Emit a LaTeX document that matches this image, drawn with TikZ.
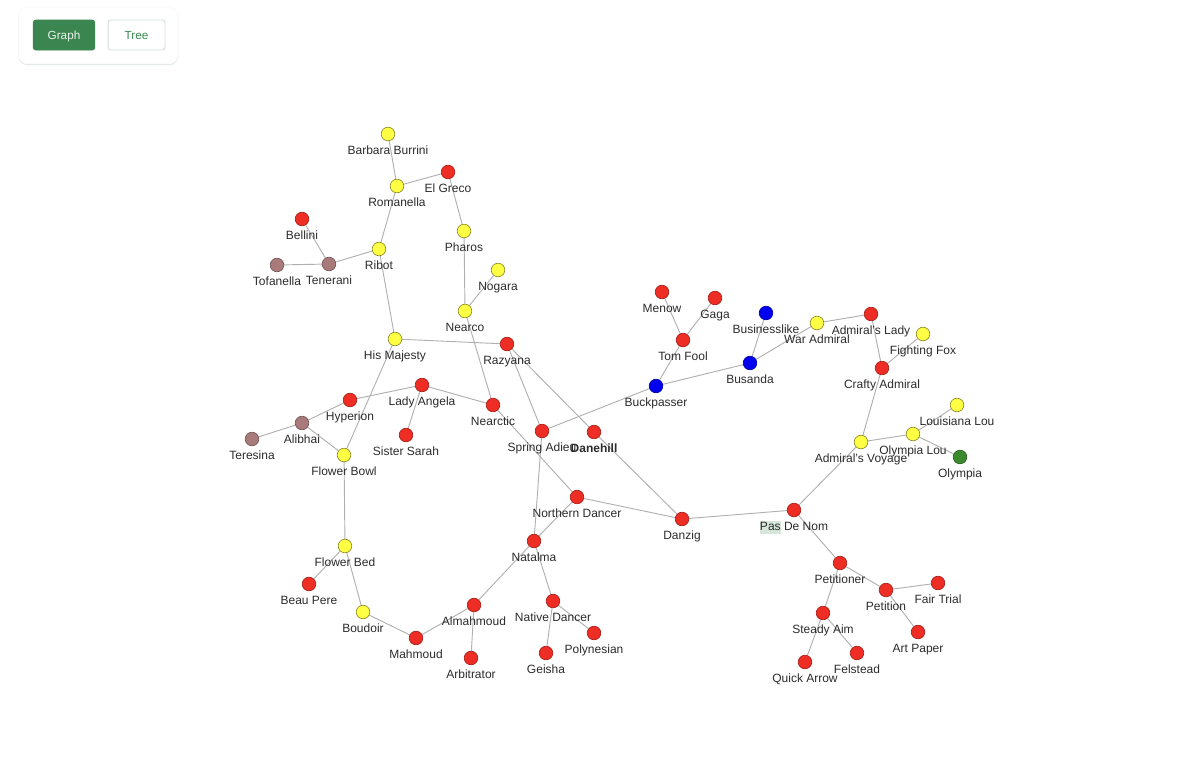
\documentclass[tikz,border=0pt]{standalone}
\usepackage{fontspec}
\setmainfont{Liberation Sans}
\usepackage{xcolor}
\usepackage{tikz}
\usetikzlibrary{backgrounds}
\definecolor{horsered}{HTML}{EE2D24}
\definecolor{horseyellow}{HTML}{FFFF44}
\definecolor{horsebrown}{HTML}{A87A7A}
\definecolor{horseblue}{HTML}{0000EE}
\definecolor{horsegreen}{HTML}{3C8A2E}
\definecolor{btngreen}{HTML}{3A8550}
\definecolor{btnedge}{HTML}{D3DDD9}
\definecolor{panedge}{HTML}{F9FBFA}
\definecolor{panshade}{HTML}{E3E8E6}
\definecolor{edgegray}{HTML}{B0B0B0}
\definecolor{marked}{HTML}{D6E6DA}
\definecolor{labelgray}{HTML}{2B2B2B}
\newcommand{\markedtext}[1]{{\setlength{\fboxsep}{0pt}\colorbox{marked}{\rule[-2.4pt]{0pt}{9.8pt}#1}}}
\tikzset {
  % one unit is one pixel of the screenshot
  x=0.75pt, y=-0.75pt,
  % circled vertex style
  main/.style = {draw, circle, inner sep=0pt, minimum size=10.2pt, line width=0.5pt},
  % labels under the vertices
  lab/.style = {font=\fontsize{9}{11}\selectfont, text=labelgray, inner sep=0pt, text height=6.8pt, text depth=2pt, yshift=-3pt},
  % vertex colours
  redv/.style = {main, fill=horsered, draw=horsered!70!black},
  yel/.style = {main, fill=horseyellow, draw=horseyellow!55!black},
  brown/.style = {main, fill=horsebrown, draw=horsebrown!70!black},
  blue/.style = {main, fill=horseblue, draw=horseblue!70!black},
  green/.style = {main, fill=horsegreen, draw=horsegreen!70!black},
  % edges
  line/.style = {draw=edgegray, line width=0.7pt},
  % top left buttons
  panel/.style = {fill=white, rounded corners=6pt, line width=0.8pt, minimum width=119pt, minimum height=42pt},
  btn/.style = {rounded corners=2pt, font=\fontsize{8.8}{11}\selectfont, inner sep=0pt, minimum height=22.5pt, line width=0.7pt, text height=7.4pt, text depth=0.7pt},
}
\begin{document}
\begin{tikzpicture}
        \useasboundingbox (0,0) rectangle (1200,775);

        \node[panel, draw=panshade] (shade) at (98.5,36.5) {};
        \node[panel, draw=panedge] (panel) at (98.5,35.5) {};
        \node[btn, fill=btngreen, draw=btngreen, text=white!90!btngreen, minimum width=46pt] (graph) at (64,35) {Graph};
        \node[btn, fill=white, draw=btnedge, text=btngreen, minimum width=42.7pt] (tree) at (136.5,35) {Tree};

        \node[yel, label={[lab]below:Barbara Burrini}] (barbara) at (388,134) {};
        \node[yel, label={[lab]below:Romanella}] (romanella) at (397,186) {};
        \node[redv, label={[lab]below:El Greco}] (elgreco) at (448,172) {};
        \node[yel, label={[lab]below:Pharos}] (pharos) at (464,231) {};
        \node[redv, label={[lab]below:Bellini}] (bellini) at (302,219) {};
        \node[yel, label={[lab]below:Ribot}] (ribot) at (379,249) {};
        \node[brown, label={[lab]below:Tenerani}] (tenerani) at (329,264) {};
        \node[brown, label={[lab]below:Tofanella}] (tofanella) at (277,265) {};
        \node[yel, label={[lab]below:Nogara}] (nogara) at (498,270) {};
        \node[yel, label={[lab]below:Nearco}] (nearco) at (465,311) {};
        \node[yel, label={[lab]below:His Majesty}] (majesty) at (395,339) {};
        \node[redv, label={[lab]below:Razyana}] (razyana) at (507,344) {};
        \node[redv, label={[lab]below:Menow}] (menow) at (662,292) {};
        \node[redv, label={[lab]below:Gaga}] (gaga) at (715,298) {};
        \node[blue, label={[lab]below:Businesslike}] (businesslike) at (766,313) {};
        \node[yel, label={[lab]below:War Admiral}] (waradmiral) at (817,323) {};
        \node[redv, label={[lab]below:Admiral's Lady}] (admlady) at (871,314) {};
        \node[yel, label={[lab]below:Fighting Fox}] (fightingfox) at (923,334) {};
        \node[redv, label={[lab]below:Tom Fool}] (tomfool) at (683,340) {};
        \node[blue, label={[lab]below:Busanda}] (busanda) at (750,363) {};
        \node[redv, label={[lab]below:Crafty Admiral}] (crafty) at (882,368) {};
        \node[blue, label={[lab]below:Buckpasser}] (buckpasser) at (656,386) {};
        \node[redv, label={[lab]below:Hyperion}] (hyperion) at (350,400) {};
        \node[redv, label={[lab]below:Lady Angela}] (angela) at (422,385) {};
        \node[redv, label={[lab]below:Nearctic}] (nearctic) at (493,405) {};
        \node[brown, label={[lab]below:Alibhai}] (alibhai) at (302,423) {};
        \node[brown, label={[lab]below:Teresina}] (teresina) at (252,439) {};
        \node[redv, label={[lab]below:Sister Sarah}] (sarah) at (406,435) {};
        \node[yel, label={[lab]below:Flower Bowl}] (flowerbowl) at (344,455) {};
        \node[redv, label={[lab]below:Spring Adieu}] (spring) at (542,431) {};
        \node[redv, label={[lab, font=\fontsize{9}{11}\selectfont\bfseries]below:Danehill}] (danehill) at (594,432) {};
        \node[yel, label={[lab]below:Louisiana Lou}] (louisiana) at (957,405) {};
        \node[yel, label={[lab]below:Olympia Lou}] (olympialou) at (913,434) {};
        \node[yel, label={[lab]below:Admiral's Voyage}] (voyage) at (861,442) {};
        \node[green, label={[lab]below:Olympia}] (olympia) at (960,457) {};
        \node[redv, label={[lab]below:Northern Dancer}] (northern) at (577,497) {};
        \node[redv, label={[lab]below:Danzig}] (danzig) at (682,519) {};
        \node[redv, label={[lab]below:\markedtext{Pas} De Nom}] (pasdenom) at (794,510) {};
        \node[redv, label={[lab]below:Natalma}] (natalma) at (534,541) {};
        \node[yel, label={[lab]below:Flower Bed}] (flowerbed) at (345,546) {};
        \node[redv, label={[lab]below:Petitioner}] (petitioner) at (840,563) {};
        \node[redv, label={[lab]below:Beau Pere}] (beaupere) at (309,584) {};
        \node[redv, label={[lab]below:Petition}] (petition) at (886,590) {};
        \node[redv, label={[lab]below:Fair Trial}] (fairtrial) at (938,583) {};
        \node[redv, label={[lab]below:Native Dancer}] (native) at (553,601) {};
        \node[redv, label={[lab]below:Almahmoud}] (almahmoud) at (474,605) {};
        \node[yel, label={[lab]below:Boudoir}] (boudoir) at (363,612) {};
        \node[redv, label={[lab]below:Steady Aim}] (steady) at (823,613) {};
        \node[redv, label={[lab]below:Art Paper}] (artpaper) at (918,632) {};
        \node[redv, label={[lab]below:Polynesian}] (polynesian) at (594,633) {};
        \node[redv, label={[lab]below:Mahmoud}] (mahmoud) at (416,638) {};
        \node[redv, label={[lab]below:Geisha}] (geisha) at (546,653) {};
        \node[redv, label={[lab]below:Felstead}] (felstead) at (857,653) {};
        \node[redv, label={[lab]below:Arbitrator}] (arbitrator) at (471,658) {};
        \node[redv, label={[lab]below:Quick Arrow}] (quickarrow) at (805,662) {};

        \begin{scope}[on background layer]
        % left half
        \draw [line] (barbara) -- (romanella);
        \draw [line] (romanella) -- (elgreco);
        \draw [line] (romanella) -- (ribot);
        \draw [line] (elgreco) -- (pharos);
        \draw [line] (pharos) -- (nearco);
        \draw [line] (nogara) -- (nearco);
        \draw [line] (nearco) -- (nearctic);
        \draw [line] (bellini) -- (tenerani);
        \draw [line] (tofanella) -- (tenerani);
        \draw [line] (tenerani) -- (ribot);
        \draw [line] (ribot) -- (majesty);
        \draw [line] (majesty) -- (razyana);
        \draw [line] (majesty) -- (flowerbowl);
        \draw [line] (razyana) -- (spring);
        \draw [line] (razyana) -- (danehill);
        \draw [line] (danehill) -- (danzig);
        \draw [line] (nearctic) -- (northern);
        \draw [line] (hyperion) -- (angela);
        \draw [line] (angela) -- (nearctic);
        \draw [line] (angela) -- (sarah);
        \draw [line] (hyperion) -- (alibhai);
        \draw [line] (alibhai) -- (teresina);
        \draw [line] (alibhai) -- (flowerbowl);
        \draw [line] (flowerbowl) -- (flowerbed);
        \draw [line] (flowerbed) -- (beaupere);
        \draw [line] (flowerbed) -- (boudoir);
        \draw [line] (boudoir) -- (mahmoud);
        \draw [line] (mahmoud) -- (almahmoud);
        \draw [line] (almahmoud) -- (arbitrator);
        \draw [line] (almahmoud) -- (natalma);
        \draw [line] (natalma) -- (spring);
        \draw [line] (natalma) -- (northern);
        \draw [line] (natalma) -- (native);
        \draw [line] (native) -- (geisha);
        \draw [line] (native) -- (polynesian);
        \draw [line] (northern) -- (danzig);
        \draw [line] (danzig) -- (pasdenom);
        % right half
        \draw [line] (spring) -- (buckpasser);
        \draw [line] (buckpasser) -- (tomfool);
        \draw [line] (buckpasser) -- (busanda);
        \draw [line] (tomfool) -- (menow);
        \draw [line] (tomfool) -- (gaga);
        \draw [line] (busanda) -- (businesslike);
        \draw [line] (busanda) -- (waradmiral);
        \draw [line] (waradmiral) -- (admlady);
        \draw [line] (admlady) -- (crafty);
        \draw [line] (fightingfox) -- (crafty);
        \draw [line] (crafty) -- (voyage);
        \draw [line] (voyage) -- (olympialou);
        \draw [line] (olympialou) -- (louisiana);
        \draw [line] (olympialou) -- (olympia);
        \draw [line] (voyage) -- (pasdenom);
        \draw [line] (pasdenom) -- (petitioner);
        \draw [line] (petitioner) -- (petition);
        \draw [line] (petitioner) -- (steady);
        \draw [line] (petition) -- (fairtrial);
        \draw [line] (petition) -- (artpaper);
        \draw [line] (steady) -- (quickarrow);
        \draw [line] (steady) -- (felstead);
        \end{scope}
      \end{tikzpicture}
\end{document}
